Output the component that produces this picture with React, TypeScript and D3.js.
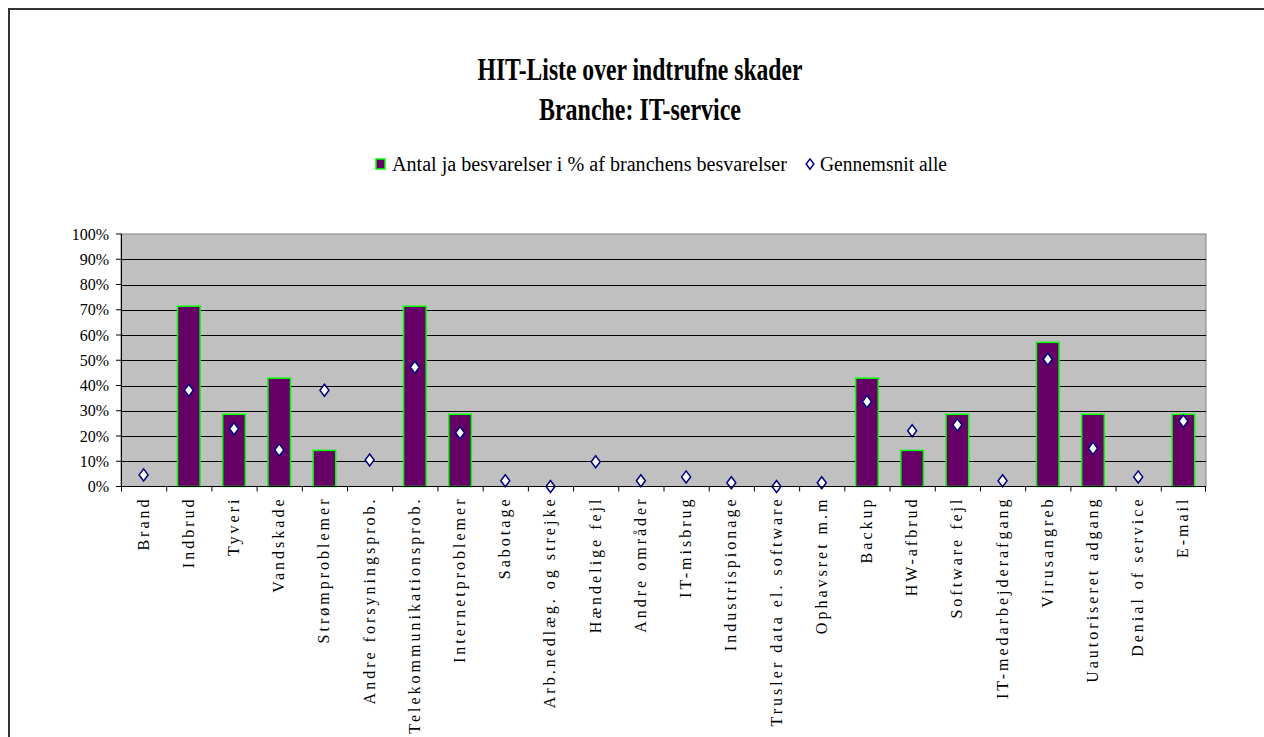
import React from "react";
import * as d3 from "d3";

const categories = [
  "Brand", "Indbrud", "Tyveri", "Vandskade", "Strømproblemer", "Andre forsyningsprob.",
  "Telekommunikationsprob.", "Internetproblemer", "Sabotage", "Arb.nedlæg. og strejke",
  "Hændelige fejl", "Andre områder", "IT-misbrug", "Industrispionage",
  "Trusler data el. software", "Ophavsret m.m", "Backup", "HW-afbrud", "Software fejl",
  "IT-medarbejderafgang", "Virusangreb", "Uautoriseret adgang", "Denial of service", "E-mail",
];
const branchValues = [
  0, 71.4, 28.6, 42.9, 14.3, 0, 71.4, 28.6, 0, 0, 0, 0, 0, 0, 0, 0, 42.9, 14.3, 28.6, 0, 57.1, 28.6, 0, 28.6,
];
const averageValues = [
  4.6, 38.1, 22.9, 14.5, 38.1, 10.5, 47.2, 21.3, 2.3, 0, 9.8, 2.3, 3.8, 1.5, 0, 1.5, 33.6, 22.1, 24.4, 2.3, 50.4, 15.1, 3.8, 25.9,
];
const yTicks = [0, 10, 20, 30, 40, 50, 60, 70, 80, 90, 100];
const titleLines = ["HIT-Liste over indtrufne skader", "Branche: IT-service"];
const legendLabels = ["Antal ja besvarelser i % af branchens besvarelser", "Gennemsnit alle"];

const FONT = "'Liberation Serif', 'Times New Roman', serif";

export default function App() {
  const W = 1264, H = 737;
  const left = 121, right = 1206, top = 234, bottom = 486.5;
  const x = d3.scaleBand<string>().domain(categories).range([left, right]).padding(0);
  const y = d3.scaleLinear().domain([0, 100]).range([bottom, top]);
  const bw = x.bandwidth();
  const diamond = "M0,-6L4.5,0L0,6L-4.5,0Z";

  return (
    <svg width={W} height={H} style={{ position: "absolute", left: 0, top: 0, background: "#fff" }} fontFamily={FONT}>
      {/* outer frame */}
      <line x1={8} y1={9} x2={W} y2={9} stroke="#333" strokeWidth={2} />
      <line x1={9} y1={8} x2={9} y2={H} stroke="#333" strokeWidth={2} />

      {/* title */}
      <text x={640} y={80} textAnchor="middle" fontWeight="bold" fontSize={31} textLength={325} lengthAdjust="spacingAndGlyphs">{titleLines[0]}</text>
      <text x={640} y={120} textAnchor="middle" fontWeight="bold" fontSize={31} textLength={202} lengthAdjust="spacingAndGlyphs">{titleLines[1]}</text>

      {/* legend */}
      <rect x={376} y={159} width={9} height={10} fill="#660066" stroke="#00ff00" strokeWidth={1.5} />
      <text x={392} y={171} fontSize={20} textLength={395} lengthAdjust="spacingAndGlyphs">{legendLabels[0]}</text>
      <path d={diamond} transform="translate(810,164) scale(0.85)" fill="#fff" stroke="#000080" strokeWidth={1.8} />
      <text x={820} y={171} fontSize={20} textLength={127} lengthAdjust="spacingAndGlyphs">{legendLabels[1]}</text>

      {/* plot area */}
      <rect x={left} y={top} width={right - left} height={bottom - top} fill="#c0c0c0" stroke="#808080" strokeWidth={1} />
      {yTicks.filter(t => t > 0 && t < 100).map(t => (
        <line key={t} x1={left} x2={right} y1={Math.round(y(t)) + 0.5} y2={Math.round(y(t)) + 0.5} stroke="#000" strokeWidth={1} />
      ))}

      {/* bars */}
      {categories.map((c, i) => branchValues[i] > 0 ? (
        <rect key={c} x={(x(c) as number) + bw / 4} y={y(branchValues[i])} width={bw / 2} height={bottom - y(branchValues[i])}
          fill="#660066" stroke="#00ff00" strokeWidth={1.5} />
      ) : null)}

      {/* averages */}
      {categories.map((c, i) => (
        <path key={c} d={diamond} transform={`translate(${(x(c) as number) + bw / 2},${y(averageValues[i])})`}
          fill="#fff" stroke="#000080" strokeWidth={1.5} />
      ))}

      {/* axes */}
      <line x1={left + 0.5} x2={left + 0.5} y1={top} y2={bottom} stroke="#000" strokeWidth={1} />
      <line x1={left} x2={right} y1={bottom} y2={bottom} stroke="#000" strokeWidth={1} />
      {yTicks.map(t => (
        <g key={t}>
          <line x1={left - 5} x2={left} y1={y(t)} y2={y(t)} stroke="#000" />
          <text x={109} y={y(t)} dy="0.35em" textAnchor="end" fontSize={16}>{t}%</text>
        </g>
      ))}
      {categories.map((c, i) => (
        <line key={"t" + i} x1={(x(c) as number) + 0.5} x2={(x(c) as number) + 0.5} y1={bottom} y2={bottom + 5} stroke="#000" />
      ))}
      <line x1={right - 0.5} x2={right - 0.5} y1={bottom} y2={bottom + 5} stroke="#000" />
      {categories.map(c => (
        <text key={"l" + c} transform={`translate(${(x(c) as number) + bw / 2 + 5},${bottom + 10}) rotate(-90)`}
          textAnchor="end" fontSize={16} letterSpacing={3}>{c}</text>
      ))}
    </svg>
  );
}
